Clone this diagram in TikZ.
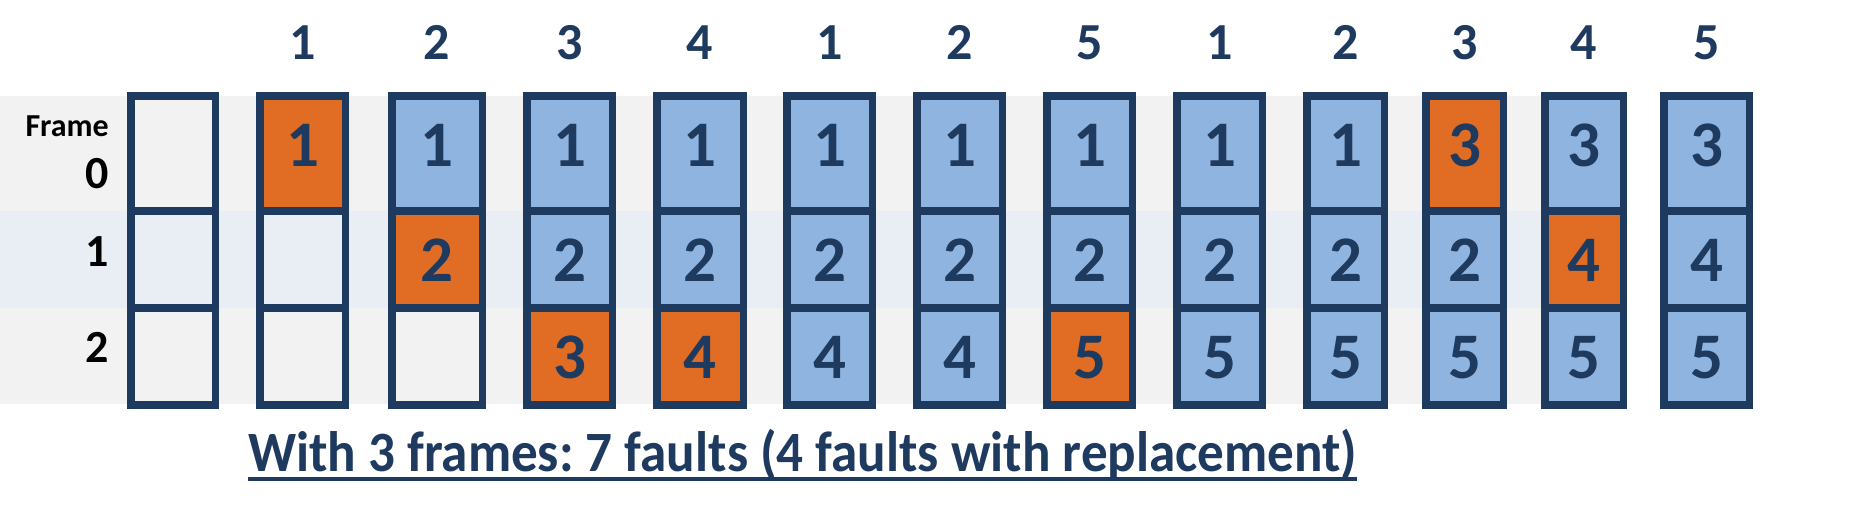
\documentclass[tikz,border=0pt]{standalone}
\usepackage{fontspec}
\usepackage{graphicx}
\setmainfont{Carlito}
\frenchspacing
\definecolor{navy}{RGB}{30,58,95}
\definecolor{fault}{RGB}{225,108,35}
\definecolor{hit}{RGB}{143,180,224}
\definecolor{bandgray}{RGB}{242,242,242}
\definecolor{bandblue}{RGB}{233,237,244}
\begin{document}
\begin{tikzpicture}[x=1pt,y=-1pt,
  frameline/.style={draw=navy,line width=7.5pt,line cap=rect},
  cellnum/.style={anchor=base,inner sep=0pt,text=navy,font=\fontsize{65}{70}\selectfont\bfseries},
  topnum/.style={anchor=base,inner sep=0pt,text=navy,font=\fontsize{52}{56}\selectfont\bfseries},
  rowlab/.style={anchor=base east,inner sep=0pt,text=black,font=\fontsize{46}{50}\selectfont\bfseries},
  framelab/.style={anchor=base east,inner sep=0pt,text=black,font=\fontsize{32}{36}\selectfont\bfseries},
  caption/.style={anchor=base west,inner sep=0pt,text=navy,font=\fontsize{57}{62}\selectfont\bfseries}]
\useasboundingbox (0,0) rectangle (1868,504);
% background bands
\fill[bandgray] (0,96) rectangle (1627,211);
\fill[bandblue] (0,211) rectangle (1627,308);
\fill[bandgray] (0,308) rectangle (1627,404);
% row labels
\node[framelab] (lframe) at (109,136) {Frame};
\node[rowlab] (l0) at (109,188) {0};
\node[rowlab] (l1) at (109,266) {1};
\node[rowlab] (l2) at (109,362) {2};
% columns
\foreach \i/\l/\r/\t/\a/\ca/\b/\cb/\c/\cc in {
  0/127/219/{}/{}/none/{}/none/{}/none,
  1/256/349/1/1/fault/{}/none/{}/none,
  2/388/486/2/1/hit/2/fault/{}/none,
  3/523/616/3/1/hit/2/hit/3/fault,
  4/653/747/4/1/hit/2/hit/4/fault,
  5/783/876/1/1/hit/2/hit/4/hit,
  6/913/1006/2/1/hit/2/hit/4/hit,
  7/1043/1136/5/1/hit/2/hit/5/fault,
  8/1173/1266/1/1/hit/2/hit/5/hit,
  9/1303/1388/2/1/hit/2/hit/5/hit,
  10/1422/1507/3/3/fault/2/hit/5/hit,
  11/1541/1627/4/3/hit/4/fault/5/hit,
  12/1660/1753/5/3/hit/4/hit/5/hit}
{
  \pgfmathsetmacro\L{\l+3.75}
  \pgfmathsetmacro\R{\r-3.75}
  \pgfmathsetmacro\cx{(\l+\r)/2}
  \path[fill=\ca] (\L,96) rectangle (\R,211);
  \path[fill=\cb] (\L,211) rectangle (\R,308);
  \path[fill=\cc] (\L,308) rectangle (\R,405);
  \draw[frameline] (\L,96) rectangle (\R,405);
  \draw[frameline] (\L,211) -- (\R,211);
  \draw[frameline] (\L,308) -- (\R,308);
  \node[topnum] (top\i) at (\cx,59) {\t};
  \node[cellnum] (c\i a) at (\cx,166) {\a};
  \node[cellnum] (c\i b) at (\cx,281) {\b};
  \node[cellnum] (c\i c) at (\cx,378) {\c};
}
% caption
\node[caption] (cap) at (248,471) {\scalebox{0.932}[1]{With 3 frames: 7 faults (4 faults with replacement)}};
\draw[navy,line width=4pt] ([yshift=-8pt]cap.base west) -- ([yshift=-8pt]cap.base east);
\end{tikzpicture}
\end{document}
